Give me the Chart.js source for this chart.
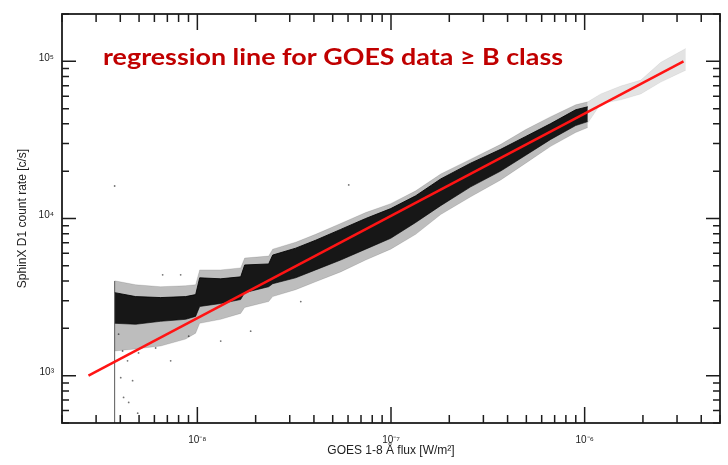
<!DOCTYPE html>
<html>
<head>
<meta charset="utf-8">
<script src="https://cdn.jsdelivr.net/npm/chart.js@4/dist/chart.umd.min.js"></script>
<style>
  html, body { margin: 0; padding: 0; background: #ffffff; }
  #wrap { width: 728px; height: 465px; }
</style>
</head>
<body>
<div id="wrap"><canvas id="c" width="728" height="465"></canvas></div>
<script>
// GOES flux [W/m^2] vs SphinX D1 count rate [c/s]

// Dense part of the point cloud: flux and upper / lower count-rate envelope
const coreFlux  = [3.74e-9, 4.8e-9, 6.46e-9, 8.7e-9, 9.8e-9, 1.028e-8, 1.32e-8, 1.674e-8, 1.755e-8, 2.335e-8, 2.449e-8, 3.22e-8, 4.08e-8, 5.5e-8, 7.4e-8, 9.97e-8, 1.342e-7, 1.806e-7, 2.58e-7, 3.687e-7, 4.965e-7, 6.68e-7, 8.99e-7, 1.038e-6];
const coreUpper = [3376, 3185, 3140, 3185, 3280, 4194, 4134, 4255, 5063, 5137, 5852, 6476, 7271, 8527, 10000, 11560, 13950, 17850, 22500, 27560, 33270, 40160, 49180, 51380];
const coreLower = [2154, 2123, 2218, 2283, 2384, 2756, 2878, 3050, 3376, 3681, 3845, 4194, 4710, 5443, 6383, 7484, 9436, 12070, 15900, 20040, 25260, 31850, 39020, 41340];

// Sparse part of the point cloud around the dense band
const haloFlux  = [3.74e-9, 4.8e-9, 6.46e-9, 8.7e-9, 9.8e-9, 1.028e-8, 1.32e-8, 1.674e-8, 1.755e-8, 2.335e-8, 2.449e-8, 3.22e-8, 4.08e-8, 5.5e-8, 7.4e-8, 9.97e-8, 1.342e-7, 1.806e-7, 2.58e-7, 3.687e-7, 4.965e-7, 6.68e-7, 8.99e-7, 1.038e-6];
const haloUpper = [4016, 3790, 3681, 3736, 3790, 4710, 4710, 4848, 5603, 5768, 6383, 7065, 7932, 9302, 10910, 12430, 15000, 19190, 23850, 29630, 36810, 44440, 52890, 55230];
const haloLower = [1436, 1479, 1544, 1709, 1864, 2154, 2283, 2490, 2716, 2963, 3185, 3525, 3958, 4575, 5443, 6383, 7932, 10600, 13750, 17590, 22500, 28790, 35250, 37900];

// Few scattered samples above 1e-6 W/m^2
const tailFlux  = [1.038e-6, 1.211e-6, 1.537e-6, 1.95e-6, 2.473e-6, 3.33e-6];
const tailUpper = [55230, 62000, 69630, 75960, 98560, 120700];
const tailLower = [40500, 53660, 56850, 62000, 73790, 87800];

// Column of samples at the lowest recorded flux
const edgeFlux = [3.74e-9, 3.74e-9];
const edgeRate = [500, 4000];

// Isolated samples away from the main band
const strayFlux = [3.74e-9, 3.92e-9, 4.11e-9, 4.02e-9, 4.36e-9, 4.16e-9, 4.42e-9, 4.92e-9, 4.97e-9, 4.63e-9, 6.09e-9, 7.28e-9, 9.02e-9, 1.32e-8, 1.885e-8, 3.42e-8, 6.05e-8, 6.62e-9, 8.2e-9];
const strayRate = [16100, 1837, 1436, 971, 1243, 727, 676, 577, 1395, 930, 1500, 1243, 1785, 1660, 1919, 2963, 16360, 4381, 4381];

// Regression line for GOES data >= B class
const fitFlux = [2.74e-9, 3.24e-6];
const fitRate = [1000, 100000];

// Axis ticks
const xTickValues = [1e-8, 1e-7, 1e-6];
const xTickLabels = ['10\u207B\u2078', '10\u207B\u2077', '10\u207B\u2076'];
const yTickValues = [1e3, 1e4, 1e5];
const yTickLabels = ['10\u00B3', '10\u2074', '10\u2075'];

const titleText = 'regression line for GOES data \u2265 B class';

const zip = (xs, ys) => xs.map((x, i) => ({ x: x, y: ys[i] }));

// Frame with inward major/minor ticks on all four sides, plus the red caption
const framePlugin = {
  id: 'frameTicks',
  afterDatasetsDraw(chart) {
    const { ctx, chartArea: a, scales } = chart;
    const xs = scales.x, ys = scales.y;
    const logTicks = (sc) => {
      const out = [];
      for (let e = Math.floor(Math.log10(sc.min)); e <= Math.ceil(Math.log10(sc.max)); e++) {
        for (let k = 1; k <= 9; k++) {
          const v = k * Math.pow(10, e);
          if (v >= sc.min * 0.9999 && v <= sc.max * 1.0001) out.push({ v: v, major: k === 1 });
        }
      }
      return out;
    };
    ctx.save();
    ctx.strokeStyle = '#1c1c1c';
    ctx.lineWidth = 1.5;
    ctx.beginPath();
    for (const t of logTicks(xs)) {
      const px = xs.getPixelForValue(t.v);
      const len = t.major ? 16 : 8;
      ctx.moveTo(px, a.bottom); ctx.lineTo(px, a.bottom - len);
      ctx.moveTo(px, a.top); ctx.lineTo(px, a.top + len);
    }
    for (const t of logTicks(ys)) {
      const py = ys.getPixelForValue(t.v);
      const len = t.major ? 14 : 7;
      ctx.moveTo(a.left, py); ctx.lineTo(a.left + len, py);
      ctx.moveTo(a.right, py); ctx.lineTo(a.right - len, py);
    }
    ctx.stroke();
    ctx.lineWidth = 1.8;
    ctx.strokeRect(a.left, a.top, a.right - a.left, a.bottom - a.top);

    // caption, fitted to its box width
    ctx.font = 'bold 22px Lato, "Open Sans", sans-serif';
    ctx.fillStyle = '#c00000';
    ctx.textBaseline = 'alphabetic';
    const w = ctx.measureText(titleText).width;
    ctx.translate(103, 65);
    ctx.scale(460 / w, 1);
    ctx.fillText(titleText, 0, 0);
    ctx.restore();
  }
};

const tickFont = { family: '"Liberation Sans", Arial, sans-serif', size: 10 };
const titleFont = { family: '"Liberation Sans", Arial, sans-serif', size: 12 };

new Chart(document.getElementById('c'), {
  type: 'line',
  data: {
    datasets: [
      { label: 'fit', data: zip(fitFlux, fitRate), borderColor: '#ff1414', borderWidth: 2.5,
        pointRadius: 0, fill: false, order: 0 },
      { label: 'stray', type: 'scatter', data: zip(strayFlux, strayRate), pointRadius: 0.9,
        backgroundColor: 'rgba(0,0,0,0.55)', borderWidth: 0, order: 1 },
      { label: 'edge', data: zip(edgeFlux, edgeRate), borderColor: 'rgba(70,70,70,0.9)', borderWidth: 1,
        pointRadius: 0, fill: false, order: 1 },
      { label: 'core upper', data: zip(coreFlux, coreUpper), borderColor: 'rgba(0,0,0,0.85)', borderWidth: 1,
        backgroundColor: 'rgba(0,0,0,0.88)', pointRadius: 0, fill: '+1', order: 2 },
      { label: 'core lower', data: zip(coreFlux, coreLower), borderColor: 'rgba(0,0,0,0.6)', borderWidth: 1,
        pointRadius: 0, fill: false, order: 2 },
      { label: 'halo upper', data: zip(haloFlux, haloUpper), borderColor: 'rgba(0,0,0,0.12)', borderWidth: 1,
        backgroundColor: 'rgba(0,0,0,0.26)', pointRadius: 0, fill: '+1', order: 3 },
      { label: 'halo lower', data: zip(haloFlux, haloLower), borderColor: 'rgba(0,0,0,0.12)', borderWidth: 1,
        pointRadius: 0, fill: false, order: 3 },
      { label: 'tail upper', data: zip(tailFlux, tailUpper), borderColor: 'rgba(0,0,0,0.06)', borderWidth: 1,
        backgroundColor: 'rgba(0,0,0,0.11)', pointRadius: 0, fill: '+1', order: 3 },
      { label: 'tail lower', data: zip(tailFlux, tailLower), borderColor: 'rgba(0,0,0,0.06)', borderWidth: 1,
        pointRadius: 0, fill: false, order: 3 }
    ]
  },
  options: {
    responsive: false,
    animation: false,
    events: [],
    layout: { padding: { top: 9, right: 8, left: 0, bottom: 0 } },
    plugins: { legend: { display: false }, tooltip: { enabled: false }, title: { display: false } },
    scales: {
      x: {
        type: 'logarithmic', position: 'bottom', min: 2e-9, max: 5e-6,
        grid: { display: false, drawTicks: false }, border: { display: false },
        afterBuildTicks: (s) => { s.ticks = xTickValues.map(v => ({ value: v })); },
        afterFit: (s) => { s.height = 42; },
        ticks: { callback: (v, i) => xTickLabels[i], font: tickFont, color: '#222', padding: 11,
                 maxRotation: 0, autoSkip: false },
        title: { display: true, text: 'GOES 1-8 \u00C5 flux [W/m\u00B2]', font: titleFont, color: '#222',
                 padding: { top: 0, bottom: 7 } }
      },
      y: {
        type: 'logarithmic', position: 'left', min: 500, max: 2e5,
        grid: { display: false, drawTicks: false }, border: { display: false },
        afterBuildTicks: (s) => { s.ticks = yTickValues.map(v => ({ value: v })); },
        afterFit: (s) => { s.width = 62; },
        ticks: { callback: (v, i) => yTickLabels[i], font: tickFont, color: '#222', padding: 8,
                 labelOffset: -3 },
        title: { display: true, text: 'SphinX D1 count rate [c/s]', font: titleFont, color: '#222',
                 padding: { top: 15, bottom: 0 } }
      }
    }
  },
  plugins: [framePlugin]
});
</script>
</body>
</html>
